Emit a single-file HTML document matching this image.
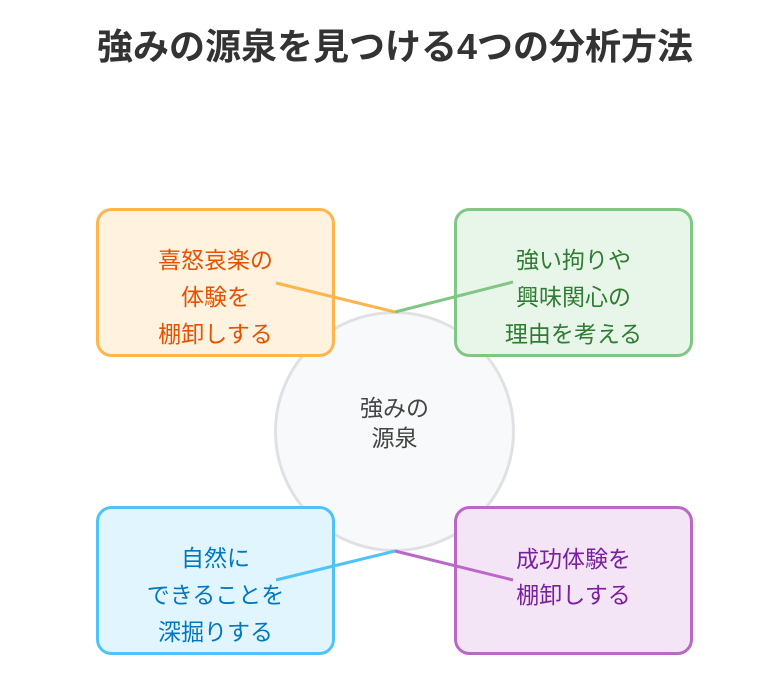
<!DOCTYPE html>
<html><head><meta charset="utf-8"><style>
html,body{margin:0;padding:0;background:#fff;}
svg{display:block;}
text{font-family:"Liberation Sans","Noto Sans CJK JP",sans-serif;}
</style></head><body>
<svg width="770" height="691" viewBox="0 0 770 691" xmlns="http://www.w3.org/2000/svg">
<rect width="770" height="691" fill="#fff"/>
<text x="395" y="59" text-anchor="middle" font-size="36" font-weight="bold" fill="#333">強みの源泉を見つける4つの分析方法</text>

<circle cx="394.5" cy="431.5" r="119" fill="#F8F9FA" stroke="#DFE1E5" stroke-width="3"/>

<rect x="97.5" y="209.5" width="236" height="146" rx="14" fill="#FFF2DF" stroke="#FFB54D" stroke-width="3"/>
<rect x="455.5" y="209.5" width="236" height="146" rx="14" fill="#E8F5E9" stroke="#81C784" stroke-width="3"/>
<rect x="97.5" y="507.5" width="236" height="146" rx="14" fill="#E1F5FE" stroke="#4FC3F7" stroke-width="3"/>
<rect x="455.5" y="507.5" width="236" height="146" rx="14" fill="#F3E5F5" stroke="#BA68C8" stroke-width="3"/>

<line x1="276" y1="283" x2="395" y2="312" stroke="#FFB54D" stroke-width="3"/>
<line x1="395" y1="312" x2="513" y2="282" stroke="#81C784" stroke-width="3"/>
<line x1="276" y1="580" x2="395" y2="551" stroke="#4FC3F7" stroke-width="3"/>
<line x1="395" y1="551" x2="513" y2="580" stroke="#BA68C8" stroke-width="3"/>

<g font-size="23" text-anchor="middle">
<g fill="#E65100">
<text x="215.5" y="268">喜怒哀楽の</text>
<text x="215.5" y="305">体験を</text>
<text x="215.5" y="342">棚卸しする</text>
</g>
<g fill="#2E7D32">
<text x="573.5" y="268">強い拘りや</text>
<text x="573.5" y="305">興味関心の</text>
<text x="573.5" y="342">理由を考える</text>
</g>
<g fill="#0277BD">
<text x="215.5" y="566">自然に</text>
<text x="215.5" y="603">できることを</text>
<text x="215.5" y="640">深掘りする</text>
</g>
<g fill="#7B1FA2">
<text x="573.5" y="567">成功体験を</text>
<text x="573.5" y="603">棚卸しする</text>
</g>
<g fill="#444">
<text x="394.5" y="416">強みの</text>
<text x="394.5" y="446">源泉</text>
</g>
</g>
</svg>
</body></html>
